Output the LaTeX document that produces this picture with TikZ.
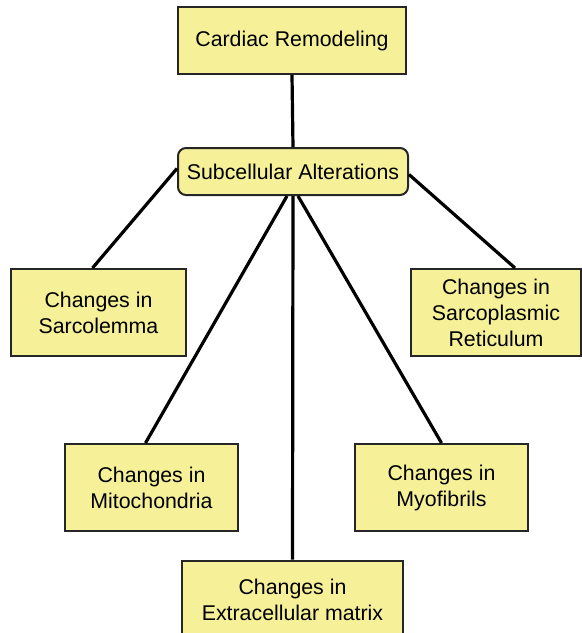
\documentclass[tikz,border=0pt]{standalone}
\usepackage{fontspec}
\setmainfont{Liberation Sans}
\usepackage{tikz}
\usetikzlibrary{calc}

\definecolor{boxfill}{RGB}{246,240,152}
\tikzset{
  box/.style={draw=black!85, fill=boxfill, line width=1.5pt, inner sep=0.75pt,
    align=center, font=\fontsize{16pt}{19.5pt}\selectfont},
  link/.style={draw=black, line width=2.4pt}
}

\begin{document}
\begin{tikzpicture}[x=0.75pt,y=0.75pt,yscale=-1,xscale=1]
        \clip (0,0) rectangle (582,633);

        % boxes
        \node [box, minimum width=171pt, minimum height=50.25pt] (cardiac) at (292,40.5) {Cardiac Remodeling};
        \node [box, rounded corners=6pt, minimum width=172.5pt, minimum height=35.25pt] (subcell) at (293,171.5) {Subcellular Alterations};
        \node [box, minimum width=131.25pt, minimum height=65.25pt] (sarcolemma) at (98.5,312.5) {Changes in\\Sarcolemma};
        \node [box, minimum width=127.5pt, minimum height=65.25pt] (reticulum) at (496,312.5) {Changes in\\Sarcoplasmic\\Reticulum};
        \node [box, minimum width=129.75pt, minimum height=65.25pt] (mito) at (151.5,487.5) {Changes in\\Mitochondria};
        \node [box, minimum width=129.75pt, minimum height=65.25pt] (myo) at (441.5,487.5) {Changes in\\Myofibrils};
        \node [box, minimum width=165.75pt, minimum height=58.5pt] (matrix) at (292.5,599.5) {Changes in\\Extracellular matrix};

        % connectors
        \draw [link] (cardiac.south) -- (subcell.north);
        \draw [link] ($(subcell.west)+(0,-3)$) -- ($(sarcolemma.north)+(-6,0)$);
        \draw [link] ($(subcell.east)+(0,3)$) -- ($(reticulum.north)+(19,0)$);
        \draw [link] ($(subcell.south)+(-6,0)$) -- ($(mito.north)+(-6,0)$);
        \draw [link] ($(subcell.south)+(5,0)$) -- (myo.north);
        \draw [link] (subcell.south) -- (matrix.north);
    \end{tikzpicture}
\end{document}
